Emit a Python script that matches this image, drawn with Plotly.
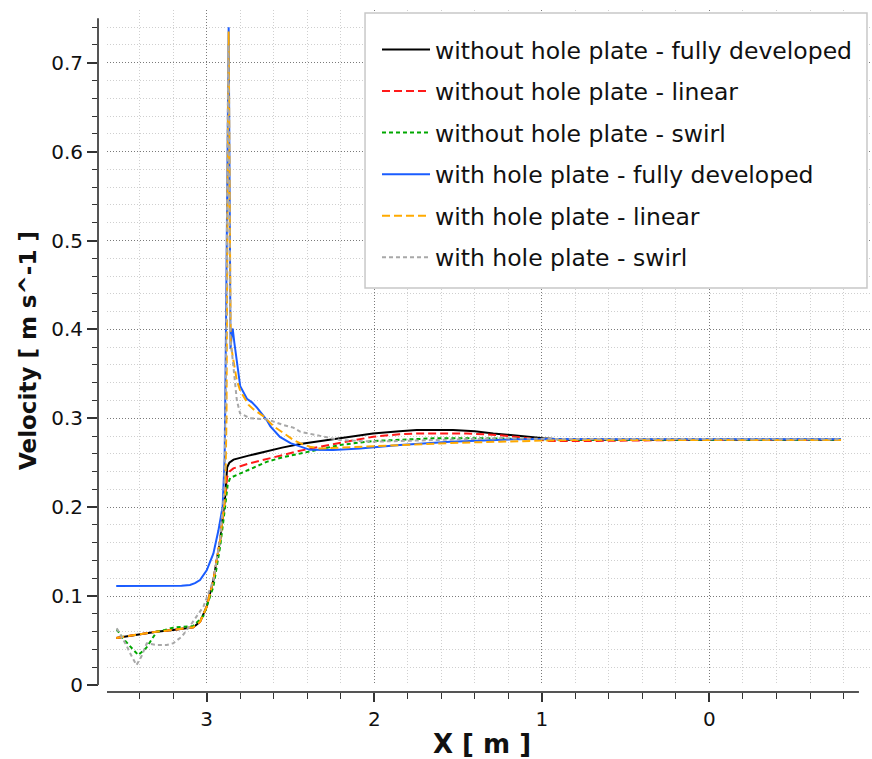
import plotly.graph_objects as go

# ---------------- data ----------------
names = [
    "without hole plate - fully developed",
    "without hole plate - linear",
    "without hole plate - swirl",
    "with hole plate - fully developed",
    "with hole plate - linear",
    "with hole plate - swirl",
]

x_wo_fd = [3.54, 3.40, 3.30, 3.20, 3.08, 3.04, 3.00, 2.96, 2.92, 2.89, 2.878, 2.865, 2.84, 2.75, 2.64, 2.55,
           2.443, 2.20, 2.008, 1.85, 1.747, 1.53, 1.40, 1.29, 1.13, 0.99, 0.85, 0.50, 0.00, -0.40, -0.785]
y_wo_fd = [0.053, 0.057, 0.060, 0.062, 0.065, 0.071, 0.088, 0.118, 0.163, 0.212, 0.245, 0.250, 0.2535, 0.258,
           0.263, 0.267, 0.271, 0.278, 0.283, 0.2855, 0.2868, 0.2868, 0.2855, 0.283, 0.280, 0.2775, 0.276,
           0.2758, 0.2758, 0.2758, 0.2758]

x_wo_lin = [3.54, 3.40, 3.30, 3.20, 3.08, 3.04, 3.00, 2.96, 2.92, 2.89, 2.878, 2.865, 2.841, 2.75, 2.64,
            2.443, 2.20, 2.006, 1.85, 1.747, 1.449, 1.25, 1.10, 0.952, 0.713, 0.50, 0.20, -0.20, -0.50, -0.785]
y_wo_lin = [0.053, 0.057, 0.060, 0.062, 0.065, 0.071, 0.088, 0.118, 0.163, 0.212, 0.234, 0.240, 0.2437, 0.249,
            0.2545, 0.2636, 0.2725, 0.2793, 0.282, 0.283, 0.283, 0.281, 0.278, 0.2745, 0.2745, 0.2752, 0.2755,
            0.2755, 0.2755, 0.2755]

x_wo_sw = [3.537, 3.497, 3.44, 3.408, 3.36, 3.298, 3.25, 3.20, 3.08, 3.02, 2.96, 2.92, 2.89, 2.875, 2.86,
           2.80, 2.73, 2.642, 2.55, 2.443, 2.205, 2.006, 1.85, 1.648, 1.35, 1.051, 0.80, 0.40, 0.00, -0.40, -0.785]
y_wo_sw = [0.0626, 0.052, 0.040, 0.0337, 0.042, 0.060, 0.062, 0.0645, 0.0664, 0.0776, 0.1106, 0.1556, 0.2006,
           0.225, 0.233, 0.238, 0.243, 0.251, 0.256, 0.2606, 0.270, 0.2745, 0.276, 0.2775, 0.2775, 0.2764,
           0.276, 0.276, 0.276, 0.276, 0.276]

x_w_fd = [3.54, 3.30, 3.15, 3.10, 3.07, 3.04, 3.00, 2.96, 2.93, 2.905, 2.893, 2.885, 2.876, 2.869, 2.863,
          2.858, 2.85, 2.845, 2.835, 2.821, 2.80, 2.76, 2.73, 2.70, 2.68, 2.642, 2.62, 2.563, 2.50, 2.443,
          2.384, 2.245, 2.085, 1.847, 1.548, 1.15, 1.00, 0.50, 0.00, -0.40, -0.785]
y_w_fd = [0.1115, 0.1115, 0.1116, 0.1125, 0.1145, 0.118, 0.129, 0.148, 0.174, 0.2006, 0.255, 0.40, 0.60, 0.740,
          0.55, 0.378, 0.395, 0.401, 0.385, 0.3656, 0.336, 0.322, 0.318, 0.312, 0.307, 0.298, 0.291, 0.279,
          0.272, 0.268, 0.2645, 0.2643, 0.266, 0.270, 0.2737, 0.2764, 0.2768, 0.2765, 0.2765, 0.2765, 0.2765]

x_w_lin = [3.54, 3.40, 3.30, 3.20, 3.08, 3.04, 3.00, 2.96, 2.92, 2.89, 2.882, 2.876, 2.869, 2.863, 2.857,
           2.851, 2.835, 2.821, 2.80, 2.782, 2.75, 2.72, 2.66, 2.60, 2.543, 2.483, 2.443, 2.384, 2.324, 2.145,
           1.847, 1.50, 1.25, 0.852, 0.40, 0.00, -0.40, -0.785]
y_w_lin = [0.053, 0.057, 0.060, 0.062, 0.065, 0.071, 0.088, 0.118, 0.163, 0.212, 0.30, 0.55, 0.735, 0.55,
           0.385, 0.377, 0.36, 0.343, 0.331, 0.325, 0.315, 0.310, 0.302, 0.291, 0.2835, 0.2757, 0.272, 0.268,
           0.266, 0.2675, 0.270, 0.2725, 0.2737, 0.2756, 0.2756, 0.2756, 0.2756, 0.2756]

x_w_sw = [3.537, 3.48, 3.457, 3.419, 3.39, 3.358, 3.30, 3.239, 3.20, 3.149, 3.089, 3.02, 2.96, 2.92, 2.895,
          2.885, 2.878, 2.871, 2.865, 2.86, 2.85, 2.835, 2.82, 2.801, 2.782, 2.741, 2.642, 2.543, 2.483,
          2.443, 2.344, 2.205, 2.006, 1.648, 1.25, 0.90, 0.50, 0.00, -0.40, -0.785]
y_w_sw = [0.0637, 0.045, 0.0356, 0.0225, 0.032, 0.0469, 0.045, 0.045, 0.047, 0.0544, 0.0694, 0.088, 0.118,
          0.165, 0.22, 0.35, 0.55, 0.72, 0.55, 0.39, 0.375, 0.35, 0.32, 0.3056, 0.3037, 0.300, 0.299, 0.2925,
          0.2895, 0.285, 0.281, 0.2756, 0.2737, 0.2756, 0.2775, 0.2768, 0.2765, 0.2765, 0.2765, 0.2765]

xs = [x_wo_fd, x_wo_lin, x_wo_sw, x_w_fd, x_w_lin, x_w_sw]
ys = [y_wo_fd, y_wo_lin, y_wo_sw, y_w_fd, y_w_lin, y_w_sw]

colors = ["#000000", "#ff1a1a", "#00a800", "#1a5cff", "#ffaa00", "#a8a8a8"]
dashes = ["solid", "8px,4px", "4px,3px", "solid", "8px,4px", "4px,3px"]

x_range = [3.595, -0.958]
y_range = [0.0, 0.7593]
x_axis_end = -0.892
y_axis_top = 0.75

FONT = "DejaVu Sans"

fig = go.Figure()
for i, (nm, xv, yv) in enumerate(zip(names, xs, ys)):
    fig.add_trace(go.Scatter(
        x=xv, y=yv, mode="lines", name=nm, legendgroup=str(i),
        line=dict(color=colors[i], width=2, dash=dashes[i]),
    ))

major_grid = "#7a7a7a"
minor_grid = "#cfcfcf"

fig.update_layout(
    width=872, height=759,
    margin=dict(l=98, r=2, t=10, b=67),
    paper_bgcolor="white", plot_bgcolor="white",
    font=dict(family=FONT, size=20, color="#111111"),
    showlegend=True,
    legend=dict(
        x=0.3614, y=0.9740, xanchor="left", yanchor="top",
        bgcolor="rgba(0,0,0,0)", borderwidth=0,
        font=dict(family=FONT, size=23.5, color="#111111"),
        tracegroupgap=8, traceorder="grouped", itemwidth=48,
    ),
    xaxis=dict(
        domain=[0.01166, 1.0], range=x_range, anchor="free", position=0.0,
        tickmode="linear", tick0=0, dtick=1,
        ticks="outside", ticklen=9, tickwidth=2, tickcolor="#333333",
        showgrid=True, gridcolor=major_grid, griddash="1px,2px", gridwidth=1,
        showline=False, zeroline=False,
        tickfont=dict(family=FONT, size=20, color="#111111"),
        minor=dict(tick0=0, dtick=0.2, ticks="outside", ticklen=6, tickwidth=1, tickcolor="#333333",
                   showgrid=True, gridcolor=minor_grid, griddash="1px,2px", gridwidth=1),
    ),
    yaxis=dict(
        domain=[0.01026, 1.0], range=y_range, anchor="free", position=0.0,
        tickmode="linear", tick0=0, dtick=0.1,
        ticks="outside", ticklen=11, tickwidth=2, tickcolor="#333333",
        showgrid=True, gridcolor=major_grid, griddash="1px,2px", gridwidth=1,
        showline=False, zeroline=False,
        tickfont=dict(family=FONT, size=20, color="#111111"),
        minor=dict(tick0=0, dtick=0.02, ticks="outside", ticklen=6, tickwidth=1, tickcolor="#333333",
                   showgrid=True, gridcolor=minor_grid, griddash="1px,2px", gridwidth=1),
    ),
)

# legend frame (white box behind the legend entries)
fig.add_shape(type="rect", xref="paper", yref="paper", x0=0.3459, x1=0.9961, y0=0.5924, y1=0.9956,
              fillcolor="white", line=dict(color="#c8c8c8", width=1.5), layer="above")

# axis lines (offset like the original: x-axis slightly below y=0, y-axis slightly left)
fig.add_shape(type="line", xref="x", yref="paper", x0=x_range[0], x1=x_axis_end, y0=0, y1=0,
              line=dict(color="#555555", width=2))
fig.add_shape(type="line", xref="paper", yref="y", x0=0, x1=0, y0=0, y1=y_axis_top,
              line=dict(color="#555555", width=2))

fig.add_annotation(text="<b>X [ m ]</b>", xref="paper", yref="paper", x=0.498, y=-0.0762,
                   xanchor="center", yanchor="middle", showarrow=False,
                   font=dict(family=FONT, size=26, color="#111111"))
fig.add_annotation(text="<b>Velocity [ m s^-1 ]</b>", xref="paper", yref="paper", x=-0.0907, y=0.5015,
                   xanchor="center", yanchor="middle", showarrow=False, textangle=-90,
                   font=dict(family=FONT, size=23, color="#111111"))

fig.write_html("out.html")
